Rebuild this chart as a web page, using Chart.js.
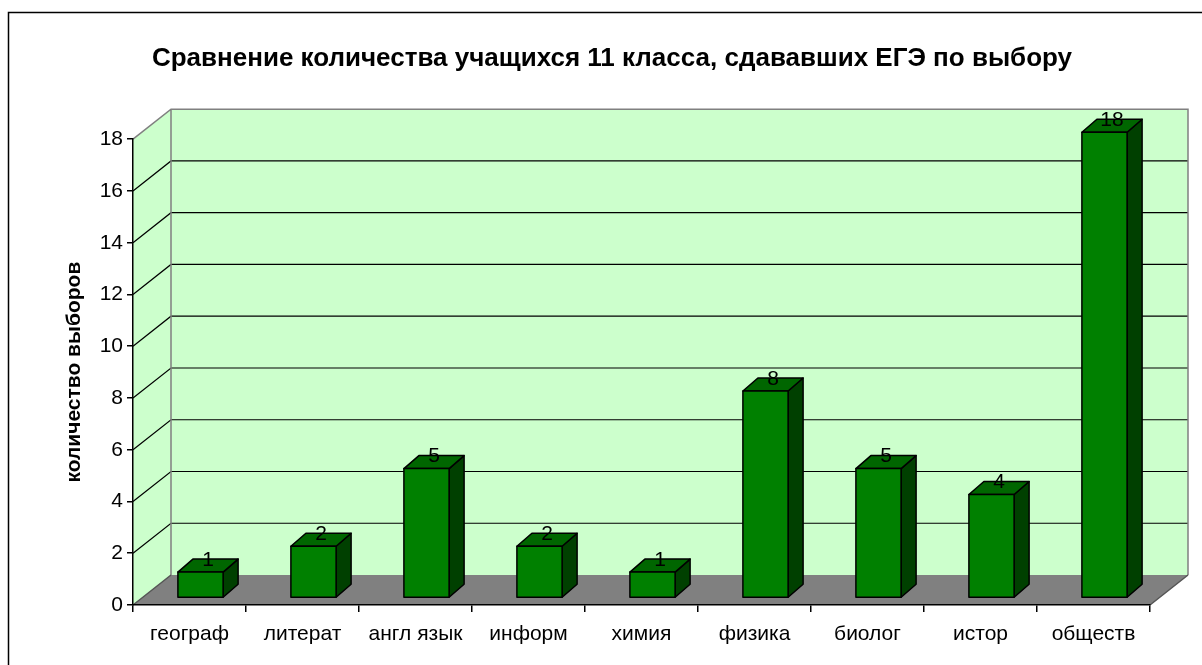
<!DOCTYPE html>
<html>
<head>
<meta charset="utf-8">
<script src="https://cdn.jsdelivr.net/npm/chart.js@4/dist/chart.umd.min.js"></script>
<style>
  html, body { margin: 0; padding: 0; background: #fff; }
  #wrap { width: 1202px; height: 665px; position: relative; }
</style>
</head>
<body>
<div id="wrap"><canvas id="chart"></canvas></div>
<script>
const subjects = ['географ', 'литерат', 'англ язык', 'информ', 'химия', 'физика', 'биолог', 'истор', 'обществ'];
const choices = [1, 2, 5, 2, 1, 8, 5, 4, 18];
const yTicks = [0, 2, 4, 6, 8, 10, 12, 14, 16, 18];

const chartTitle = 'Сравнение количества учащихся 11 класса, сдававших ЕГЭ по выбору';
const yTitle = 'количество выборов';

// 3D look
const depth = { x: 38, y: -30 };     // back wall offset
const barShift = { x: 11, y: -7 };   // bar front face offset
const barDepth = { x: 15, y: -13 };  // bar thickness
const wallColor = '#CCFFCC';
const floorColor = '#808080';
const barFront = '#008000';
const barTop = '#006600';
const barSide = '#004000';

const font = 'Arial, "Liberation Sans", sans-serif';

const walls3d = {
  id: 'walls3d',
  beforeDraw(chart) {
    const ctx = chart.ctx;
    const ys = chart.scales.y;
    const area = chart.chartArea;
    const L = area.left, R = area.right;
    const B = ys.getPixelForValue(0);
    const T = ys.getPixelForValue(yTicks[yTicks.length - 1]);
    ctx.save();
    ctx.fillStyle = '#fff';
    ctx.fillRect(0, 0, chart.width, chart.height);
    // outer frame
    ctx.strokeStyle = '#000';
    ctx.lineWidth = 1.5;
    ctx.strokeRect(8.5, 12.5, 1400, 800);

    // side wall
    ctx.beginPath();
    ctx.moveTo(L, B);
    ctx.lineTo(L + depth.x, B + depth.y);
    ctx.lineTo(L + depth.x, T + depth.y);
    ctx.lineTo(L, T);
    ctx.closePath();
    ctx.fillStyle = wallColor;
    ctx.fill();
    // back wall
    ctx.fillRect(L + depth.x, T + depth.y, R - L, B - T);

    // floor
    ctx.beginPath();
    ctx.moveTo(L, B);
    ctx.lineTo(R, B);
    ctx.lineTo(R + depth.x, B + depth.y);
    ctx.lineTo(L + depth.x, B + depth.y);
    ctx.closePath();
    ctx.fillStyle = floorColor;
    ctx.fill();

    // grid lines on walls
    ctx.strokeStyle = '#000';
    ctx.lineWidth = 1.2;
    yTicks.forEach(v => {
      if (v === 0 || v === yTicks[yTicks.length - 1]) return;
      const y = ys.getPixelForValue(v);
      ctx.beginPath();
      ctx.moveTo(L, y);
      ctx.lineTo(L + depth.x, y + depth.y);
      ctx.lineTo(R + depth.x, y + depth.y);
      ctx.stroke();
    });

    // wall edges
    ctx.strokeStyle = '#808080';
    ctx.lineWidth = 1.5;
    ctx.beginPath();
    ctx.moveTo(L, T);
    ctx.lineTo(L + depth.x, T + depth.y);
    ctx.lineTo(R + depth.x, T + depth.y);
    ctx.lineTo(R + depth.x, B + depth.y);
    ctx.moveTo(L + depth.x, T + depth.y);
    ctx.lineTo(L + depth.x, B + depth.y);
    ctx.stroke();
    ctx.strokeStyle = '#555';
    ctx.beginPath();
    ctx.moveTo(L, B);
    ctx.lineTo(L + depth.x, B + depth.y);
    ctx.moveTo(R, B);
    ctx.lineTo(R + depth.x, B + depth.y);
    ctx.stroke();
    ctx.restore();
  },
  afterDatasetsDraw(chart) {
    const ctx = chart.ctx;
    const meta = chart.getDatasetMeta(0);
    ctx.save();
    ctx.lineWidth = 1.5;
    ctx.strokeStyle = '#000';
    ctx.lineJoin = 'round';
    meta.data.forEach((bar, i) => {
      const p = bar.getProps(['x', 'y', 'base', 'width'], true);
      const x0 = p.x - p.width / 2 + barShift.x;
      const x1 = p.x + p.width / 2 + barShift.x;
      const yt = p.y + barShift.y;
      const yb = p.base + barShift.y;
      // side
      ctx.beginPath();
      ctx.moveTo(x1, yb);
      ctx.lineTo(x1 + barDepth.x, yb + barDepth.y);
      ctx.lineTo(x1 + barDepth.x, yt + barDepth.y);
      ctx.lineTo(x1, yt);
      ctx.closePath();
      ctx.fillStyle = barSide;
      ctx.fill();
      ctx.stroke();
      // top
      ctx.beginPath();
      ctx.moveTo(x0, yt);
      ctx.lineTo(x0 + barDepth.x, yt + barDepth.y);
      ctx.lineTo(x1 + barDepth.x, yt + barDepth.y);
      ctx.lineTo(x1, yt);
      ctx.closePath();
      ctx.fillStyle = barTop;
      ctx.fill();
      ctx.stroke();
      // front
      ctx.fillStyle = barFront;
      ctx.fillRect(x0, yt, x1 - x0, yb - yt);
      ctx.strokeRect(x0, yt, x1 - x0, yb - yt);
      // value label
      ctx.fillStyle = '#000';
      ctx.font = '21px ' + font;
      ctx.textAlign = 'center';
      ctx.textBaseline = 'middle';
      ctx.fillText(String(choices[i]), (x0 + x1) / 2 + barDepth.x / 2, yt - 12);
    });
    ctx.restore();
  }
};

new Chart(document.getElementById('chart'), {
  type: 'bar',
  data: {
    labels: subjects,
    datasets: [{
      data: choices,
      backgroundColor: 'rgba(0,0,0,0)',
      borderWidth: 0,
      barPercentage: 0.4,
      categoryPercentage: 1
    }]
  },
  options: {
    responsive: true,
    maintainAspectRatio: false,
    animation: false,
    layout: { padding: { left: 22, right: 0, top: 0, bottom: 0 } },
    plugins: {
      legend: { display: false },
      tooltip: { enabled: false },
      title: {
        display: true,
        text: chartTitle,
        color: '#000',
        font: { family: font, size: 26, weight: 'bold' },
        padding: { top: 43, bottom: 65 }
      }
    },
    scales: {
      x: {
        grid: { drawOnChartArea: false, drawTicks: true, tickLength: 7, color: '#000', offset: true, lineWidth: 1.5 },
        border: { display: true, color: '#000', width: 1.5 },
        ticks: { color: '#000', padding: 10, font: { family: font, size: 21 } },
        afterFit(scale) { scale.height = 60; }
      },
      y: {
        min: 0,
        max: 18,
        grid: { drawOnChartArea: false, drawTicks: true, tickLength: 6, color: '#000', lineWidth: 1.5 },
        border: { display: true, color: '#000', width: 1.5 },
        ticks: { stepSize: 2, color: '#000', padding: 4, font: { family: font, size: 21 } },
        title: {
          display: true,
          text: yTitle,
          color: '#000',
          font: { family: font, size: 21, weight: 'bold' },
          padding: { top: 40, bottom: 0 }
        },
        afterFit(scale) { scale.width = 111; }
      },
      spacer: {
        position: 'right',
        display: true,
        grid: { display: false },
        border: { display: false },
        ticks: { display: false },
        afterFit(scale) { scale.width = 52; }
      }
    }
  },
  plugins: [walls3d]
});
</script>
</body>
</html>
